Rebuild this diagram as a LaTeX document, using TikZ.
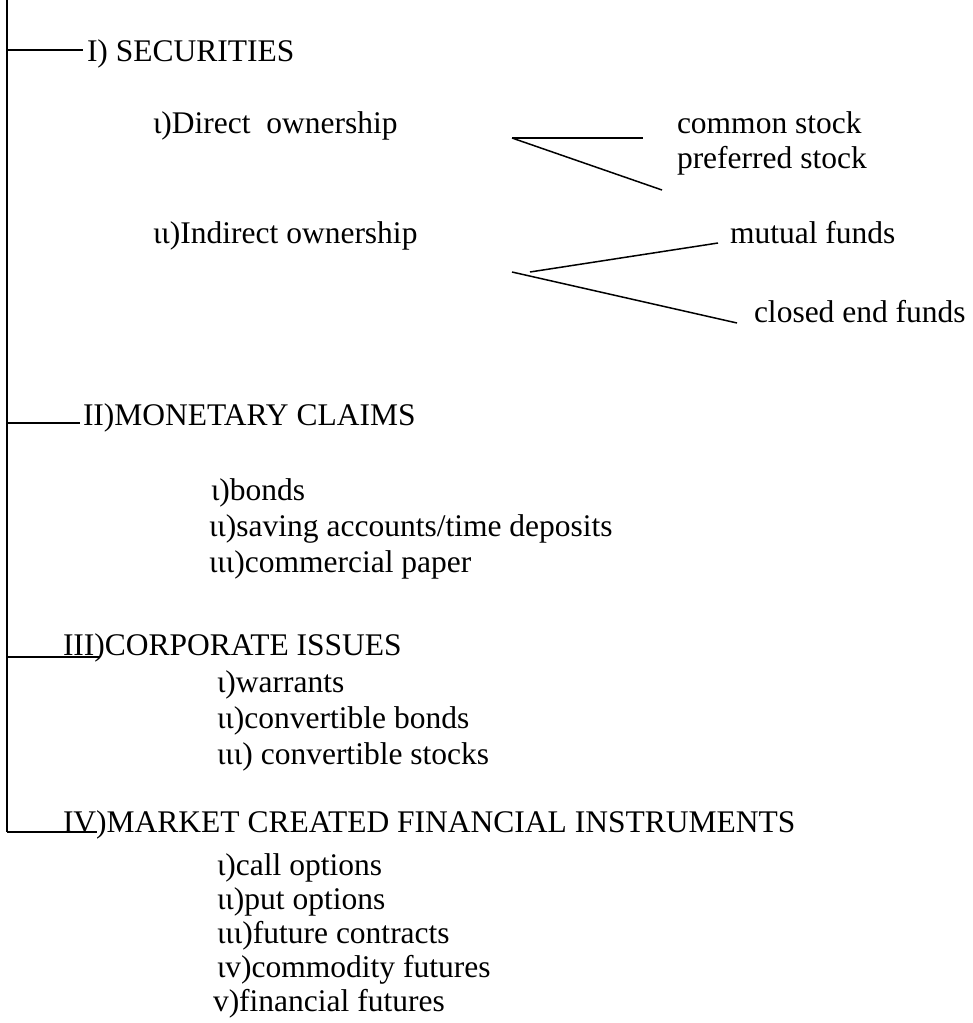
\documentclass[tikz,border=0pt]{standalone}
\usepackage{fontspec}
\setmainfont{Liberation Serif}
\begin{document}
\begin{tikzpicture}[x=1pt,y=-1pt,
  txt/.style={anchor=base west,inner sep=0pt,outer sep=0pt,font=\fontsize{31.5}{34}\selectfont},
  ln/.style={line width=1.5pt,black}]
\useasboundingbox (0,0) rectangle (973,1023);
% headings
\node[txt] (s1) at (87,61) {I) SECURITIES};
\node[txt] (d1) at (153,133) {ι)Direct\ \ ownership};
\node[txt] (d2) at (153,243) {ιι)Indirect ownership};
\node[txt] (cs) at (677,133) {common stock};
\node[txt] (ps) at (677,168) {preferred stock};
\node[txt] (mf) at (730,243) {mutual funds};
\node[txt] (cf) at (754,322) {closed end funds};
\node[txt] (s2) at (83,425) {II)MONETARY CLAIMS};
\node[txt] (b1) at (211,500) {ι)bonds};
\node[txt] (b2) at (209,536) {ιι)saving accounts/time deposits};
\node[txt] (b3) at (209,572) {ιιι)commercial paper};
\node[txt] (s3) at (63,655) {III)CORPORATE ISSUES};
\node[txt] (c1) at (217,692) {ι)warrants};
\node[txt] (c2) at (217,728) {ιι)convertible bonds};
\node[txt] (c3) at (217,764) {ιιι) convertible stocks};
\node[txt] (s4) at (63,832) {IV)MARKET CREATED FINANCIAL INSTRUMENTS};
\node[txt] (m1) at (217,875) {ι)call options};
\node[txt] (m2) at (217,909) {ιι)put options};
\node[txt] (m3) at (217,943) {ιιι)future contracts};
\node[txt] (m4) at (217,977) {ιv)commodity futures};
\node[txt] (m5) at (213,1011) {v)financial futures};
% trunk
\coordinate (top) at (7,0);
\coordinate (bot) at (7,832);
\coordinate (j1) at (7,50);  \coordinate (e1) at (83,50);
\coordinate (j2) at (7,423); \coordinate (e2) at (80,423);
\coordinate (j3) at (7,657); \coordinate (e3) at (100,657);
\coordinate (j4) at (7,832); \coordinate (e4) at (97,832);
\draw[ln] (top) -- (bot);
\draw[ln] (j1) -- (e1);
\draw[ln] (j2) -- (e2);
\draw[ln] (j3) -- (e3);
\draw[ln] (j4) -- (e4);
% branches
\coordinate (a0) at (512,138);
\coordinate (a1) at (643,138);
\coordinate (a2) at (662,190);
\draw[ln] (a0) -- (a1);
\draw[ln] (a0) -- (a2);
\coordinate (b0) at (512,272);
\coordinate (b0a) at (530,272);
\coordinate (bm) at (718,243);
\coordinate (bc) at (737,323);
\draw[ln] (b0a) -- (bm);
\draw[ln] (b0) -- (bc);
\end{tikzpicture}
\end{document}
